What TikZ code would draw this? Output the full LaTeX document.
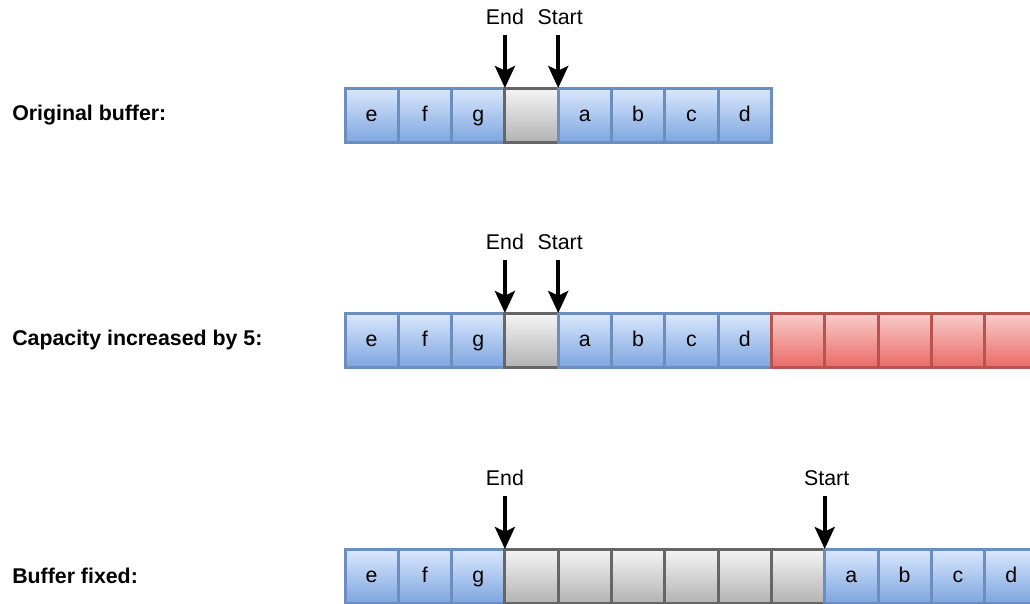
\documentclass[tikz,border=0pt]{standalone}
\usepackage{fontspec}
\setmainfont{Liberation Sans}
\usetikzlibrary{arrows.meta,positioning}

\definecolor{usedtop}{HTML}{DAE8FC}
\definecolor{usedbot}{HTML}{7EA6E0}
\definecolor{usedline}{HTML}{6C8EBF}
\definecolor{freetop}{HTML}{F5F5F5}
\definecolor{freebot}{HTML}{B3B3B3}
\definecolor{freeline}{HTML}{666666}
\definecolor{addtop}{HTML}{F8CECC}
\definecolor{addbot}{HTML}{EA6B66}
\definecolor{addline}{HTML}{B85450}

\tikzset{
  cell/.style={rectangle, line width=2.25pt, minimum width=39.975pt, minimum height=40.5pt,
               inner sep=0pt, outer sep=0pt, text height=12pt, text depth=3pt,
               font=\fontsize{16}{19}\selectfont},
  used/.style={cell, draw=usedline, top color=usedtop, bottom color=usedbot},
  free/.style={cell, draw=freeline, top color=freetop, bottom color=freebot},
  added/.style={cell, draw=addline, top color=addtop, bottom color=addbot},
  pointer/.style={line width=3pt, -{Stealth[length=16.5pt, width=15pt, inset=3.5pt]}},
  ptrlabel/.style={inner sep=2pt, font=\fontsize{16}{19}\selectfont},
  rowlabel/.style={anchor=west, inner sep=0pt, font=\bfseries\fontsize{16}{19}\selectfont}
}

\begin{document}
\begin{tikzpicture}[x=0.75pt,y=-0.75pt]
  \useasboundingbox (0,0) rectangle (1030,603);
  \clip (0,0) rectangle (1030,603);

  % original buffer
  \node[rowlabel] (lbl1) at (12,115) {Original buffer:};
  \foreach \t [count=\i] in {e,f,g}
    \node[used] (o\i) at ({345+53.3*(\i-0.5)},115) {\t};
  \node[free] (o4) at ({345+53.3*3.5},115) {};
  \foreach \t [count=\i from 5] in {a,b,c,d}
    \node[used] (o\i) at ({345+53.3*(\i-0.5)},115) {\t};
  \coordinate (oe) at (o4.north west |- 0,35);
  \coordinate (os) at (o5.north west |- 0,35);
  \node[ptrlabel, above=5.5pt of oe] (oend) {End};
  \node[ptrlabel, above=5.5pt of os, xshift=1.5pt] (ostart) {Start};
  \draw[pointer] (oe) -- (o4.north west);
  \draw[pointer] (os) -- (o5.north west);

  % capacity grown by five slots
  \node[rowlabel] (lbl2) at (12,340) {Capacity increased by 5:};
  \foreach \t [count=\i] in {e,f,g}
    \node[used] (g\i) at ({345+53.3*(\i-0.5)},340) {\t};
  \node[free] (g4) at ({345+53.3*3.5},340) {};
  \foreach \t [count=\i from 5] in {a,b,c,d}
    \node[used] (g\i) at ({345+53.3*(\i-0.5)},340) {\t};
  \foreach \i in {9,...,13}
    \node[added] (g\i) at ({345+53.3*(\i-0.5)},340) {};
  \coordinate (ge) at (g4.north west |- 0,260);
  \coordinate (gs) at (g5.north west |- 0,260);
  \node[ptrlabel, above=5.5pt of ge] (gend) {End};
  \node[ptrlabel, above=5.5pt of gs, xshift=1.5pt] (gstart) {Start};
  \draw[pointer] (ge) -- (g4.north west);
  \draw[pointer] (gs) -- (g5.north west);

  % start block moved to the end
  \node[rowlabel] (lbl3) at (12,576) {Buffer fixed:};
  \foreach \t [count=\i] in {e,f,g}
    \node[used] (f\i) at ({345+53.3*(\i-0.5)},576) {\t};
  \foreach \i in {4,...,9}
    \node[free] (f\i) at ({345+53.3*(\i-0.5)},576) {};
  \foreach \t [count=\i from 10] in {a,b,c,d}
    \node[used] (f\i) at ({345+53.3*(\i-0.5)},576) {\t};
  \coordinate (fe) at (f4.north west |- 0,496);
  \coordinate (fs) at (f10.north west |- 0,496);
  \node[ptrlabel, above=5.5pt of fe] (fend) {End};
  \node[ptrlabel, above=5.5pt of fs, xshift=1.5pt] (fstart) {Start};
  \draw[pointer] (fe) -- (f4.north west);
  \draw[pointer] (fs) -- (f10.north west);
\end{tikzpicture}
\end{document}
